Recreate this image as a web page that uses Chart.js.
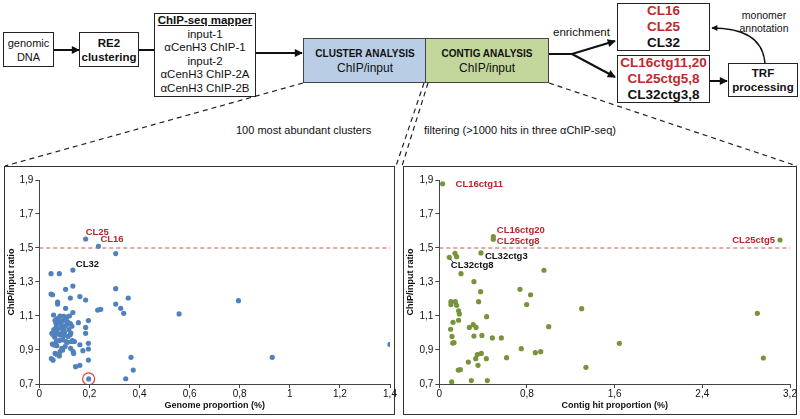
<!DOCTYPE html>
<html>
<head>
<meta charset="utf-8">
<script src="https://cdn.jsdelivr.net/npm/chart.js@4.4.1/dist/chart.umd.min.js"></script>
<style>
  body { margin: 0; width: 800px; height: 419px; background: #fff; overflow: hidden; position: relative;
         font-family: "Liberation Sans", Arial, sans-serif; color: #111; }
  .box { position: absolute; box-sizing: border-box; border: 1.5px solid #222; background: #fff;
         display: flex; flex-direction: column; align-items: center; justify-content: center; text-align: center; }
  .panel { position: absolute; box-sizing: border-box; border: 1px solid #333; }
  .txt { position: absolute; white-space: nowrap; }
  .red { color: #c0282d; }
  canvas { position: absolute; }
</style>
</head>
<body>

<svg width="800" height="419" style="position:absolute;left:0;top:0">
  <defs>
    <marker id="ah" viewBox="0 0 10 10" refX="9" refY="5" markerWidth="4.5" markerHeight="4" orient="auto">
      <path d="M0,0 L10,5 L0,10 z" fill="#111"/>
    </marker>
  </defs>
  <g stroke="#111" stroke-width="2" fill="none">
    <line x1="54" y1="50" x2="79" y2="50" marker-end="url(#ah)"/>
    <line x1="139" y1="50" x2="154" y2="50"/>
    <line x1="256" y1="53" x2="302" y2="53" marker-end="url(#ah)"/>
    <line x1="549" y1="54" x2="572" y2="54"/>
    <line x1="572" y1="54" x2="615" y2="41" marker-end="url(#ah)"/>
    <line x1="572" y1="54" x2="615" y2="77" marker-end="url(#ah)"/>
    <line x1="710" y1="81" x2="727" y2="81" marker-end="url(#ah)"/>
    <path d="M765,63 Q762,28 712,28" stroke-width="1.5" marker-end="url(#ah)"/>
  </g>
  <g stroke="#222" stroke-width="1.2" stroke-dasharray="5,4" fill="none">
    <line x1="303" y1="83" x2="5" y2="166"/>
    <line x1="424" y1="83" x2="396" y2="166"/>
    <line x1="428" y1="83" x2="402" y2="166"/>
    <line x1="549" y1="83" x2="797" y2="166"/>
  </g>
</svg>

<div class="box" style="left:3px;top:32px;width:51px;height:35px;font-size:11px;line-height:14px"><div>genomic</div><div>DNA</div></div>
<div class="box" style="left:79px;top:32px;width:60px;height:35px;font-size:11.5px;line-height:14px;font-weight:bold"><div>RE2</div><div>clustering</div></div>
<div class="box" style="left:154px;top:13px;width:102px;height:84px;font-size:11.5px;line-height:13.6px;justify-content:flex-start">
  <div style="font-weight:bold;text-decoration:underline">ChIP-seq mapper</div>
  <div>input-1</div><div>αCenH3 ChIP-1</div><div>input-2</div><div>αCenH3 ChIP-2A</div><div>αCenH3 ChIP-2B</div>
</div>
<div class="box" style="left:303px;top:38px;width:124px;height:45px;background:#b9cde5;border-color:#444;line-height:15px">
  <div style="font-weight:bold;font-size:10px">CLUSTER ANALYSIS</div><div style="font-size:12px">ChIP/input</div>
</div>
<div class="box" style="left:425px;top:38px;width:124px;height:45px;background:#c3d69b;border-color:#444;line-height:15px">
  <div style="font-weight:bold;font-size:10px">CONTIG ANALYSIS</div><div style="font-size:12px">ChIP/input</div>
</div>
<div class="box" style="left:617px;top:3px;width:93px;height:48px;font-size:13.5px;line-height:16px;font-weight:bold">
  <div class="red">CL16</div><div class="red">CL25</div><div>CL32</div>
</div>
<div class="box" style="left:617px;top:55px;width:93px;height:48px;font-size:13.5px;line-height:16px;font-weight:bold">
  <div class="red">CL16ctg11,20</div><div class="red">CL25ctg5,8</div><div>CL32ctg3,8</div>
</div>
<div class="box" style="left:728px;top:63px;width:70px;height:34px;font-size:11.5px;line-height:14px;font-weight:bold"><div>TRF</div><div>processing</div></div>

<div class="txt" style="left:553px;top:26px;font-size:11.5px">enrichment</div>
<div class="txt" style="left:738px;top:9px;width:52px;text-align:center;font-size:10.5px;line-height:13px">monomer<br>annotation</div>
<div class="txt" style="left:236px;top:124px;font-size:11px">100 most abundant clusters</div>
<div class="txt" style="left:424px;top:124px;font-size:11px">filtering (&gt;1000 hits in three αChIP-seq)</div>

<div class="panel" style="left:4px;top:166px;width:391px;height:249px"></div>
<div class="panel" style="left:403px;top:166px;width:394px;height:249px"></div>
<canvas id="left" width="393" height="247" style="left:5px;top:167px;width:393px;height:247px"></canvas>
<canvas id="right" width="394" height="247" style="left:404px;top:167px;width:394px;height:247px"></canvas>

<script>
// cluster analysis: genome proportion (%) vs ChIP/input ratio
const genomeProportion = [
  0.185, 0.236, 0.305, 0.134, 0.047, 0.080, 0.047, 0.053, 0.105, 0.134,
  0.305, 0.355, 0.124, 0.162, 0.073, 0.073, 0.185, 0.795, 0.305, 0.325,
  0.337, 0.233, 0.245, 0.105, 0.134, 0.558, 0.057, 0.083, 0.097, 0.109,
  0.120, 0.156, 0.196, 0.185, 0.185, 0.196, 0.196, 0.174, 0.162, 0.196,
  0.162, 0.145, 0.197, 0.345, 0.375, 0.366, 0.930, 1.400,
  0.050, 0.055, 0.058, 0.062, 0.052, 0.058, 0.068, 0.070, 0.048, 0.055,
  0.063, 0.068, 0.080, 0.083, 0.090, 0.093, 0.103, 0.107, 0.112, 0.125,
  0.135, 0.137, 0.128, 0.132, 0.123, 0.126, 0.130, 0.124, 0.110, 0.103,
  0.096, 0.090, 0.083, 0.075, 0.068, 0.066, 0.063, 0.075, 0.080, 0.072,
  0.086, 0.093, 0.113, 0.106, 0.118, 0.100, 0.078, 0.085, 0.094, 0.115,
  0.060, 0.072, 0.088, 0.098, 0.140
];
const clusterRatio = [
  1.553, 1.510, 1.467, 1.370, 1.349, 1.349, 1.229, 1.225, 1.257, 1.276,
  1.261, 1.206, 1.206, 1.214, 1.182, 1.170, 1.194, 1.190, 1.170, 1.145,
  1.116, 1.135, 1.139, 1.145, 1.120, 1.112, 1.106, 1.100, 1.098, 1.094,
  1.100, 1.061, 1.073, 1.033, 0.998, 0.939, 0.906, 0.896, 0.931, 0.841,
  0.810, 0.802, 0.730, 0.731, 0.782, 0.857, 0.857, 0.933,
  0.998, 0.990, 1.020, 0.975, 0.935, 0.930, 0.950, 0.925, 0.850, 0.840,
  0.880, 0.875, 0.865, 0.890, 0.910, 0.900, 0.920, 0.950, 0.945, 0.910,
  0.890, 0.880, 0.950, 0.955, 0.990, 1.000, 1.040, 1.055, 1.050, 1.040,
  1.020, 1.000, 0.990, 0.995, 1.040, 1.060, 1.075, 1.065, 1.075, 1.085,
  1.055, 1.070, 1.065, 1.080, 1.020, 1.005, 0.955, 0.960, 0.960, 0.980,
  1.000, 1.020, 1.030, 0.985, 0.950
];
const circledPoint = [0.197, 0.730];

// contig analysis: contig hit proportion (%) vs ChIP/input ratio
const contigProportion = [
  0.030, 0.493, 0.493, 3.109, 0.380, 0.143, 0.158, 0.091, 0.198, 0.955,
  0.316, 0.377, 0.736, 0.833, 0.797, 0.359, 0.106, 0.106, 0.146, 0.158,
  0.176, 0.183, 0.125, 0.176, 0.432, 1.299, 2.902, 0.103, 0.116, 0.122,
  0.134, 0.274, 0.310, 0.335, 0.316, 0.389, 0.484, 0.566, 0.998, 1.643,
  2.957, 0.265, 0.332, 0.347, 0.383, 0.429, 0.614, 0.748, 0.876, 0.925,
  0.353, 0.173, 0.192, 1.338, 0.113, 0.292, 0.438
];
const contigRatio = [
  1.878, 1.567, 1.551, 1.547, 1.471, 1.469, 1.449, 1.445, 1.349, 1.369,
  1.302, 1.243, 1.257, 1.225, 1.167, 1.184, 1.184, 1.167, 1.184, 1.163,
  1.131, 1.112, 1.063, 1.075, 1.096, 1.143, 1.116, 1.022, 0.980, 0.941,
  0.943, 1.033, 1.049, 1.033, 0.982, 0.986, 0.971, 0.971, 1.037, 0.939,
  0.853, 0.829, 0.849, 0.873, 0.880, 0.849, 0.855, 0.908, 0.884, 0.890,
  0.810, 0.782, 0.784, 0.798, 0.712, 0.720, 0.720
];

const threshold = 1.5;
const ratioTicks = [0.7, 0.9, 1.1, 1.3, 1.5, 1.7, 1.9];
const genomeTicks = [0, 0.2, 0.4, 0.6, 0.8, 1, 1.2, 1.4];
const contigTicks = [0, 0.8, 1.6, 2.4, 3.2];

const clusterNames = ['CL25', 'CL16', 'CL32'];
const clusterNameIdx = [0, 1, 3];
const contigNames = ['CL16ctg11', 'CL16ctg20', 'CL25ctg8', 'CL25ctg5', 'CL32ctg3', 'CL32ctg8'];
const contigNameIdx = [0, 1, 2, 3, 4, 7];

const RED = '#b8262c';
Chart.defaults.font.family = '"Liberation Sans", Arial, sans-serif';
Chart.defaults.color = '#111';

const fmt = v => String(+Number(v).toFixed(1)).replace('.', ',');

const labelPlugin = {
  id: 'pointNames',
  afterDatasetsDraw(chart, args, opts) {
    const { ctx, scales: { x, y } } = chart;
    ctx.save();
    ctx.font = 'bold 9.5px "Liberation Sans", Arial, sans-serif';
    ctx.textBaseline = 'middle';
    opts.items.forEach(it => {
      const px = x.getPixelForValue(it.x);
      const py = y.getPixelForValue(it.y);
      ctx.fillStyle = it.color;
      ctx.textAlign = it.align || 'left';
      ctx.fillText(it.text, px + it.dx, py + it.dy);
      if (it.leader) {
        ctx.strokeStyle = '#111';
        ctx.lineWidth = 0.8;
        ctx.beginPath();
        ctx.moveTo(px + 1, py + 1.5);
        ctx.lineTo(px + 4, py + 5);
        ctx.stroke();
      }
    });
    ctx.restore();
  }
};

function makeScatter(id, xs, ys, color, xTicks, xTitle, yAxisWidth, names, extra) {
  const xMax = xTicks[xTicks.length - 1];
  const datasets = [
    {
      data: xs.map((v, i) => ({ x: v, y: ys[i] })),
      backgroundColor: color, borderWidth: 0, pointRadius: 2.6
    },
    {
      data: [{ x: 0, y: threshold }, { x: xMax, y: threshold }],
      showLine: true, borderColor: '#d0504f', borderWidth: 1, borderDash: [4, 3],
      pointRadius: 0, fill: false
    }
  ].concat(extra);

  return new Chart(document.getElementById(id), {
    type: 'scatter',
    data: { datasets },
    options: {
      responsive: false,
      animation: false,
      layout: { padding: { top: 13, right: 8, left: 0, bottom: 0 } },
      plugins: {
        legend: { display: false },
        tooltip: { enabled: false },
        pointNames: { items: names }
      },
      scales: {
        x: {
          type: 'linear', min: 0, max: xMax,
          afterFit: s => { s.height = 30; },
          afterBuildTicks: s => { s.ticks = xTicks.map(v => ({ value: v })); },
          ticks: { font: { size: 10 }, padding: 0, callback: fmt, maxRotation: 0 },
          grid: { drawOnChartArea: false, tickLength: 4, color: '#444' },
          border: { color: '#444' },
          title: { display: true, text: xTitle, font: { size: 9, weight: 'bold' }, padding: { top: 0, bottom: 3 } }
        },
        y: {
          type: 'linear', min: 0.7, max: 1.9,
          afterFit: s => { s.width = yAxisWidth; },
          afterBuildTicks: s => { s.ticks = ratioTicks.map(v => ({ value: v })); },
          ticks: { font: { size: 10 }, padding: 2, callback: fmt },
          grid: { drawOnChartArea: false, tickLength: 4, color: '#444' },
          border: { color: '#444' },
          title: { display: true, text: 'ChIP/input ratio', font: { size: 9, weight: 'bold' }, padding: { top: 1, bottom: 0 } }
        }
      }
    },
    plugins: [labelPlugin]
  });
}

const leftNames = [
  { text: clusterNames[0], color: RED, dx: 0, dy: -7 },
  { text: clusterNames[1], color: RED, dx: 2, dy: -6.5 },
  { text: clusterNames[2], color: '#111', dx: 3, dy: -6 }
].map((n, i) => Object.assign(n, { x: genomeProportion[clusterNameIdx[i]], y: clusterRatio[clusterNameIdx[i]] }));

const rightNames = [
  { text: contigNames[0], color: RED, dx: 13, dy: 1 },
  { text: contigNames[1], color: RED, dx: 3.5, dy: -6 },
  { text: contigNames[2], color: RED, dx: 3.5, dy: 2.5 },
  { text: contigNames[3], color: RED, dx: -5, dy: 0, align: 'right' },
  { text: contigNames[4], color: '#111', dx: 4, dy: 3 },
  { text: contigNames[5], color: '#111', dx: 1.5, dy: 8, leader: true }
].map((n, i) => Object.assign(n, { x: contigProportion[contigNameIdx[i]], y: contigRatio[contigNameIdx[i]] }));

makeScatter('left', genomeProportion, clusterRatio, '#4f81bd', genomeTicks, 'Genome proportion (%)', 34.3, leftNames, [{
  data: [{ x: circledPoint[0], y: circledPoint[1] }],
  pointRadius: 6, backgroundColor: 'rgba(0,0,0,0)', borderColor: '#e03a3a', borderWidth: 1.2
}]);
makeScatter('right', contigProportion, contigRatio, '#77933c', contigTicks, 'Contig hit proportion (%)', 35.3, rightNames, []);
</script>
</body>
</html>
